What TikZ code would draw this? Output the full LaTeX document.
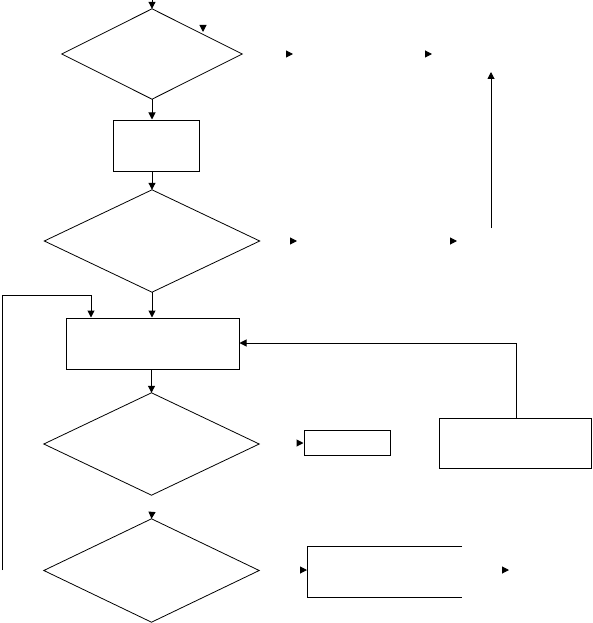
\documentclass[tikz,border=0pt]{standalone}
\usetikzlibrary{arrows.meta}
\begin{document}
\begin{tikzpicture}[x=1pt,y=-1pt,
  box/.style={draw,line width=1pt,inner sep=0pt,minimum width=#1},
  dia/.style={draw=none,inner sep=0pt,minimum width=#1},
  dline/.style={line width=0.8pt,line join=miter},
  conn/.style={line width=1pt,-{Triangle[length=7pt,width=7pt]}},
  tip/.style={line width=1pt,-{Triangle[length=7pt,width=7pt]}}]
\useasboundingbox (0,0) rectangle (592,623);
% diamonds (invisible frames)
\node[dia=180pt,minimum height=90pt] (d1) at (152,54) {};
\node[dia=215pt,minimum height=102pt] (d2) at (152,241) {};
\node[dia=215pt,minimum height=102pt] (d3) at (151.5,444) {};
\node[dia=215pt,minimum height=103pt] (d4) at (151.5,570.5) {};
\foreach \d in {d1,d2,d3,d4}
  \draw[dline] (\d.north) -- (\d.east) -- (\d.south) -- (\d.west) -- cycle;
% boxes
\node[box=86pt,minimum height=51pt] (r1) at (156,145.5) {};
\node[box=173pt,minimum height=51pt] (r2) at (152.5,343.5) {};
\node[box=86pt,minimum height=25pt] (r3) at (347,442.5) {};
\node[box=152pt,minimum height=50pt] (r4) at (515,443) {};
% open box
\coordinate (r5a) at (462,546);
\coordinate (r5b) at (307,546);
\coordinate (r5c) at (307,597);
\coordinate (r5d) at (462,597);
\coordinate (r5w) at (307,570);
\draw[line width=1pt] (r5a) -- (r5b) -- (r5c) -- (r5d);
% main connectors
\coordinate (top) at (152,0);
\draw[conn] (top) -- (d1.north);
\draw[conn] (d1.south) -- (r1.north -| d1.south);
\draw[conn] (r1.south -| d1.south) -- (d2.north);
\draw[conn] (d2.south) -- (r2.north -| d2.south);
\draw[conn] (r2.south -| d3.north) -- (d3.north);
% feedback loop on the left
\coordinate (fb0) at (2,570);
\coordinate (fb1) at (2,295);
\coordinate (fb2) at (91,295);
\draw[conn] (fb0) -- (fb1) -- (fb2) -- (fb2 |- r2.north);
% loop from r4 back into r2
\coordinate (lp1) at (516,343);
\draw[conn] (r4.north -| lp1) -- (lp1) -- (r2.east |- lp1);
% up arrow on the right
\coordinate (up0) at (491,228);
\coordinate (up1) at (491,72);
\draw[conn] (up0) -- (up1);
% isolated arrowheads
\coordinate (t1a) at (152,512); \draw[tip] (t1a) -- (d4.north);
\coordinate (t2a) at (203,25); \coordinate (t2b) at (203,32); \draw[tip] (t2a) -- (t2b);
\coordinate (t3a) at (286,54); \coordinate (t3b) at (293,54); \draw[tip] (t3a) -- (t3b);
\coordinate (t4a) at (425,54); \coordinate (t4b) at (432,54); \draw[tip] (t4a) -- (t4b);
\coordinate (t5a) at (290,241); \coordinate (t5b) at (297,241); \draw[tip] (t5a) -- (t5b);
\coordinate (t6a) at (450,241); \coordinate (t6b) at (457,241); \draw[tip] (t6a) -- (t6b);
\coordinate (t7a) at (297,443); \draw[tip] (t7a) -- (r3.west |- t7a);
\coordinate (t8a) at (300,570); \draw[tip] (t8a) -- (r5w);
\coordinate (t9a) at (502,570); \coordinate (t9b) at (509,570); \draw[tip] (t9a) -- (t9b);
\end{tikzpicture}
\end{document}
